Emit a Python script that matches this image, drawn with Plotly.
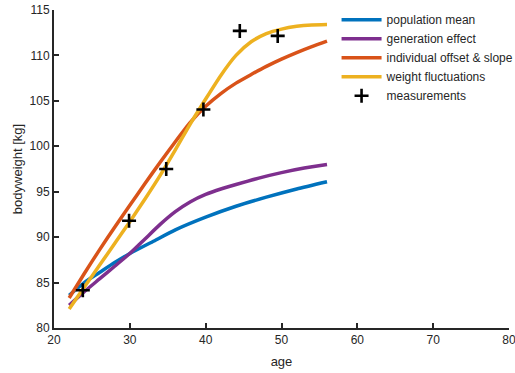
import plotly.graph_objects as go

# ---- data ----
age_pop = [22, 24, 26, 28, 30, 33, 36, 40, 44, 48, 52, 56]
pop_mean = [83.6, 85.0, 86.1, 87.2, 88.2, 89.5, 90.8, 92.2, 93.4, 94.4, 95.3, 96.1]

age_gen = [22, 24, 26, 28, 30, 32, 34, 36, 38, 40, 42, 44, 47, 50, 53, 56]
gen_effect = [82.5, 84.0, 85.4, 86.8, 88.2, 89.8, 91.4, 92.8, 93.9, 94.7, 95.3, 95.8, 96.5, 97.1, 97.6, 98.0]

age_ind = [22, 24, 26, 28, 30, 32, 34, 36, 38, 40, 42, 44, 46, 48, 50, 52, 54, 56]
ind_offset = [83.3, 86.0, 88.6, 91.1, 93.5, 95.9, 98.25, 100.5, 102.65, 104.4, 105.8, 106.95,
              107.9, 108.8, 109.6, 110.32, 110.98, 111.58]

age_wf = [22, 24, 26, 28, 30, 32, 34, 36, 38, 40, 42, 44, 46, 48, 50, 52, 54, 56]
weight_fluct = [82.1, 84.5, 86.9, 89.3, 91.7, 94.2, 96.8, 99.6, 102.5, 105.2, 107.8, 110.0, 111.5,
                112.4, 112.9, 113.2, 113.35, 113.4]

meas_age = [23.8, 29.9, 34.8, 39.7, 44.5, 49.5]
meas_weight = [84.15, 91.8, 97.5, 104.05, 112.7, 112.15]

names = ["population mean", "generation effect", "individual offset & slope", "weight fluctuations"]
colors = ["#0072BD", "#7E2F8E", "#D95319", "#EDB120"]

fig = go.Figure()
for xs, ys, nm, c in zip([age_pop, age_gen, age_ind, age_wf],
                         [pop_mean, gen_effect, ind_offset, weight_fluct], names, colors):
    fig.add_trace(go.Scatter(x=xs, y=ys, mode="lines", name=nm,
                             line=dict(color=c, width=3.5, shape="spline", smoothing=0.6)))

fig.add_trace(go.Scatter(x=meas_age, y=meas_weight, mode="markers", name="measurements",
                         marker=dict(symbol="cross-thin", size=10, color="black",
                                     line=dict(color="black", width=2.6))))

axis_common = dict(showgrid=False, zeroline=False, showline=True, linecolor="#262626", linewidth=2,
                   ticks="inside", ticklen=5, tickwidth=2, tickcolor="#262626",
                   tickfont=dict(family="Liberation Sans, Arial", size=12, color="#262626"),
                   mirror=False, automargin=False, ticklabeloverflow="allow")

fig.update_layout(
    width=515, height=373,
    margin=dict(l=54, r=6, t=9.5, b=45.3, autoexpand=False),
    paper_bgcolor="white", plot_bgcolor="white",
    font=dict(family="Liberation Sans, Arial", size=12, color="#262626"),
    xaxis=dict(range=[20, 80], dtick=10, tick0=20,
               title=dict(text="age", font=dict(size=13, color="#262626"), standoff=10),
               **axis_common),
    yaxis=dict(range=[80, 115], dtick=5, tick0=80,
               title=dict(text="bodyweight [kg]", font=dict(size=13, color="#262626"), standoff=4),
               **axis_common),
    legend=dict(x=0.621, y=0.85, xanchor="left", yanchor="middle", bgcolor="rgba(0,0,0,0)",
                borderwidth=0, font=dict(size=12, color="#262626"), itemwidth=40,
                tracegroupgap=0),
    showlegend=True,
)

fig.write_html("out.html")
